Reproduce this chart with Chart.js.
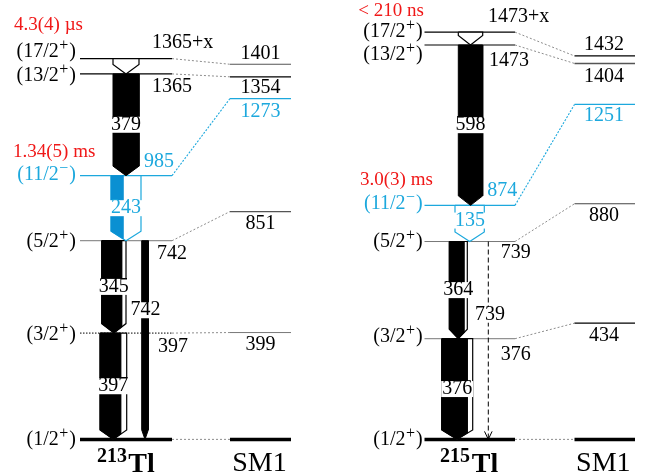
<!DOCTYPE html>
<html>
<head>
<meta charset="utf-8">
<script src="https://cdn.jsdelivr.net/npm/chart.js@4.4.0/dist/chart.umd.min.js"></script>
<style>
  html, body { margin: 0; padding: 0; background: #fff; }
  canvas { display: block; }
</style>
</head>
<body>
<canvas id="scheme" width="646" height="475"></canvas>
<script>
// ==========================
//  DATA
// ==========================
const spins = ['(1/2+)', '(3/2+)', '(5/2+)', '(11/2−)', '(13/2+)', '(17/2+)'];

// 213Tl levels, keV (top level is 1365+x, x)
const energies213 = [0, 397, 742, 985, 1365, 1422];
const energyLabels213 = ['', '397', '742', '985', '1365', '1365+x'];
const sm1Energies213 = [0, 399, 851, 1273, 1354, 1401];
const halfLives213 = ['1.34(5) ms', '4.3(4) µs'];   // (11/2-), (17/2+)

// 215Tl levels, keV
const energies215 = [0, 376, 739, 874, 1473, 1521];
const energyLabels215 = ['', '376', '739', '874', '1473', '1473+x'];
const sm1Energies215 = [0, 434, 880, 1251, 1404, 1432];
const halfLives215 = ['3.0(3) ms', '< 210 ns'];

// gamma transitions [from level, to level] and their labels
const gammas = [[5, 4], [4, 3], [3, 2], [2, 1], [1, 0], [2, 0]];
const gammaLabels213 = ['', '379', '243', '345', '397', '742'];
const gammaLabels215 = ['', '598', '135', '364', '376', '739'];

// ==========================
//  LAYOUT / STYLE
// ==========================
const CYAN = '#1ca8dd';
const STRIP = '#0a90d2';
const RED = '#f01818';
const GRAY = '#777';
const FONT = '20px "Liberation Serif"';
const SUP = '16px "Liberation Serif"';
const Y_MIN = -133, Y_MAX = 1641, H = 475;
const KEV_PER_PX = (Y_MAX - Y_MIN) / H;
const HEAD = 9.5 * KEV_PER_PX;

const BLK = { c: '#000', w: 1.2 };
const GND = { c: '#000', w: 3.5 };

const panels = [
  {
    E: energies213, eLab: energyLabels213, sm: sm1Energies213, half: halfLives213,
    gLab: gammaLabels213, mass: '213',
    lvlX: [80, 172], smX: [230, 291], spinRight: 76,
    spinDy: [0, 1.5, 1, -1, 1.5, -7],
    levelStyle: [GND, { c: '#000', w: 1, dash: [1.5, 1.5] }, { c: GRAY, w: 1 }, { c: CYAN, w: 1.2 }, BLK, BLK],
    smStyle: [GND, { c: GRAY, w: 1 }, { c: '#555', w: 1.2 }, { c: CYAN, w: 1.2 }, BLK, { c: '#555', w: 1.2 }],
    eLabPos: [null, [158, 14], [157, 12.6], [144, -14], [152, 13], [152, -16]],
    smLabX: 260.5, smDy: [null, 12.5, 12, 13, 10.5, -11],
    halfPos: [[3, 13, -24], [5, 14, -33.7]],
    arrows: [
      { x0: 113, x1: 139, tip: 126, kind: 'hollow' },
      { x0: 113, x1: 139, tip: 126, kind: 'solid' },
      { x0: 111, x1: 141, tip: 126, kind: 'split', xc: 123, line: CYAN, fill: STRIP, text: CYAN },
      { x0: 101.7, x1: 126, tip: 113.9, kind: 'split', xc: 121.7 },
      { x0: 100, x1: 126.7, tip: 113.3, kind: 'split', xc: 120.7 },
      { x0: 141.7, x1: 148.3, tip: 145, kind: 'solid', lab: [145.5, 0.35] }
    ],
    massX: 97, tlX: 128.3, smTitleX: 259.5
  },
  {
    E: energies215, eLab: energyLabels215, sm: sm1Energies215, half: halfLives215,
    gLab: gammaLabels215, mass: '215',
    lvlX: [424.5, 515], smX: [574.5, 635], spinRight: 422.7,
    spinDy: [0, -1.5, 0, -1.5, 9.8, -0.6],
    levelStyle: [GND, { c: GRAY, w: 1 }, { c: GRAY, w: 1 }, { c: CYAN, w: 1.2 }, BLK, BLK],
    smStyle: [GND, BLK, { c: '#444', w: 1.2 }, { c: CYAN, w: 1.2 }, { c: '#555', w: 1.5 }, BLK],
    eLabPos: [null, [500.7, 16.3], [500.7, 11.7], [487.3, -15], [489, 16], [488, -15.6]],
    smLabX: 604, smDy: [null, 12.7, 12.3, 11, 13, -11],
    halfPos: [[3, 360, -25.7], [5, 358.3, -21.3]],
    arrows: [
      { x0: 458.3, x1: 482.7, tip: 470.5, kind: 'hollow' },
      { x0: 458.3, x1: 482.7, tip: 470.5, kind: 'solid' },
      { x0: 455, x1: 484.3, tip: 469.7, kind: 'hollow', line: CYAN, text: CYAN, lab: [470, 0.42] },
      { x0: 449.3, x1: 467.3, tip: 458.3, kind: 'split', xc: 464 },
      { x0: 441.7, x1: 472.7, tip: 457, kind: 'split', xc: 467.3 },
      { x: 488.3, kind: 'dashed', lab: [490, 0.37] }
    ],
    massX: 440, tlX: 471.7, smTitleX: 603.3
  }
];

// ==========================
//  DATASETS
// ==========================
function seg(x0, y0, x1, y1, st, order) {
  return {
    data: [{ x: x0, y: y0 }, { x: x1, y: y1 }],
    borderColor: st.c, borderWidth: st.w, borderDash: st.dash || [],
    pointRadius: 0, fill: false, order
  };
}

function poly(pts, fillColor, lineColor, lw, order) {
  const data = pts.concat([pts[0]]).map(p => ({ x: p[0], y: p[1] }));
  return {
    data, fill: 'shape', backgroundColor: fillColor, borderColor: lineColor,
    borderWidth: lw, pointRadius: 0, borderJoinStyle: 'miter', order
  };
}

function arrowShape(a, eFrom, eTo) {
  return [[a.x0, eFrom], [a.x1, eFrom], [a.x1, eTo + HEAD], [a.tip, eTo], [a.x0, eTo + HEAD]];
}

// keep the part of a polygon with x <= xc
function clipLeft(pts, xc) {
  const out = [];
  for (let i = 0; i < pts.length; i++) {
    const p = pts[i], q = pts[(i + 1) % pts.length];
    const pin = p[0] <= xc, qin = q[0] <= xc;
    if (pin) out.push(p);
    if (pin !== qin) {
      const t = (xc - p[0]) / (q[0] - p[0]);
      out.push([xc, p[1] + t * (q[1] - p[1])]);
    }
  }
  return out;
}

const datasets = [];
panels.forEach(P => {
  P.E.forEach((e, i) => {
    datasets.push(seg(P.lvlX[0], e, P.lvlX[1], e, P.levelStyle[i], 10));
    datasets.push(seg(P.smX[0], P.sm[i], P.smX[1], P.sm[i], P.smStyle[i], 10));
    const conn = i === 3 ? { c: CYAN, w: 1.1, dash: [2, 1.5] } : { c: '#8c8c8c', w: 1, dash: [2, 2] };
    datasets.push(seg(P.lvlX[1], e, P.smX[0], P.sm[i], conn, 10));
  });
  gammas.forEach(([from, to], k) => {
    const a = P.arrows[k];
    const eFrom = P.E[from], eTo = P.E[to];
    if (a.kind === 'dashed') {
      datasets.push(seg(a.x, eFrom, a.x, eTo, { c: '#000', w: 1, dash: [5, 3] }, 5));
      const hh = 8 * KEV_PER_PX;
      datasets.push({
        data: [{ x: a.x - 3.8, y: eTo + hh }, { x: a.x, y: eTo }, { x: a.x + 3.8, y: eTo + hh }],
        borderColor: '#000', borderWidth: 1, pointRadius: 0, fill: false, order: 5
      });
      return;
    }
    const shape = arrowShape(a, eFrom, eTo);
    const line = a.line || '#000';
    if (a.kind === 'solid') {
      datasets.push(poly(shape, '#000', '#000', 1, 5));
    } else {
      datasets.push(poly(shape, '#fff', line, 1.2, 5));
      if (a.kind === 'split') {
        const f = a.fill || '#000';
        datasets.push(poly(clipLeft(shape, a.xc), f, f, 0.8, 4));
      }
    }
  });
});

// ==========================
//  TEXT PLUGIN
// ==========================
function drawSpin(ctx, s, xRight, y, color) {
  const m = s.match(/^(.*)([+−])\)$/);
  ctx.fillStyle = color;
  ctx.textBaseline = 'middle';
  ctx.textAlign = 'left';
  ctx.font = FONT;
  const w1 = ctx.measureText(m[1]).width + 0.5, w3 = ctx.measureText(')').width;
  ctx.font = SUP;
  const w2 = ctx.measureText(m[2]).width + 1;
  let x = xRight - (w1 + w2 + w3);
  ctx.font = FONT; ctx.fillText(m[1], x, y); x += w1;
  ctx.font = SUP; ctx.fillText(m[2], x, y - 6); x += w2;
  ctx.font = FONT; ctx.fillText(')', x, y);
}

function text(ctx, s, x, y, color, align, font, baseline) {
  ctx.font = font || FONT;
  ctx.fillStyle = color || '#000';
  ctx.textAlign = align || 'left';
  ctx.textBaseline = baseline || 'middle';
  ctx.fillText(s, x, y);
}

const textPlugin = {
  id: 'schemeText',
  afterDatasetsDraw(chart) {
    const ctx = chart.ctx;
    const xs = chart.scales.x, ys = chart.scales.y;
    const py = e => ys.getPixelForValue(e);
    const px = v => xs.getPixelForValue(v);
    ctx.save();
    panels.forEach(P => {
      P.E.forEach((e, i) => {
        const cyan = i === 3;
        drawSpin(ctx, spins[i], px(P.spinRight), py(e) + P.spinDy[i], cyan ? CYAN : '#000');
        if (P.eLabPos[i]) {
          text(ctx, P.eLab[i], px(P.eLabPos[i][0]), py(e) + P.eLabPos[i][1], cyan ? CYAN : '#000');
        }
        if (P.smDy[i] !== null) {
          text(ctx, String(P.sm[i]), px(P.smLabX), py(P.sm[i]) + P.smDy[i], cyan ? CYAN : '#000', 'center');
        }
      });
      P.halfPos.forEach(([lvl, x, dy], k) => {
        text(ctx, P.half[k], px(x), py(P.E[lvl]) + dy, RED, 'left', '19px "Liberation Serif"');
      });
      gammas.forEach(([from, to], k) => {
        const lab = P.gLab[k];
        if (!lab) return;
        const a = P.arrows[k];
        const cx = a.lab ? a.lab[0] : (a.x0 + a.x1) / 2;
        const frac = a.lab ? a.lab[1] : 0.5;
        const yTop = py(P.E[from]), yBot = py(P.E[to]);
        const cy = yTop + (yBot - yTop) * frac;
        ctx.font = FONT;
        const w = ctx.measureText(lab).width;
        ctx.fillStyle = '#fff';
        ctx.fillRect(px(cx) - w / 2 - 1, cy - 8, w + 2, 16);
        text(ctx, lab, px(cx), cy, a.text || '#000', 'center');
      });
      // nucleus and model titles
      text(ctx, P.mass, px(P.massX), 461.5, '#000', 'left', 'bold 20px "Liberation Serif"', 'alphabetic');
      text(ctx, 'Tl', px(P.tlX), 471.5, '#000', 'left', 'bold 28px "Liberation Serif"', 'alphabetic');
      text(ctx, 'SM1', px(P.smTitleX), 471, '#000', 'center', '28px "Liberation Serif"', 'alphabetic');
    });
    ctx.restore();
  }
};

// ==========================
//  CHART
// ==========================
new Chart(document.getElementById('scheme'), {
  type: 'line',
  data: { datasets },
  options: {
    responsive: false,
    animation: false,
    devicePixelRatio: 1,
    layout: { padding: 0 },
    elements: { line: { tension: 0 } },
    plugins: { legend: { display: false }, tooltip: { enabled: false } },
    scales: {
      x: { type: 'linear', min: 0, max: 646, display: false },
      y: { type: 'linear', min: Y_MIN, max: Y_MAX, display: false }
    }
  },
  plugins: [textPlugin]
});
</script>
</body>
</html>
